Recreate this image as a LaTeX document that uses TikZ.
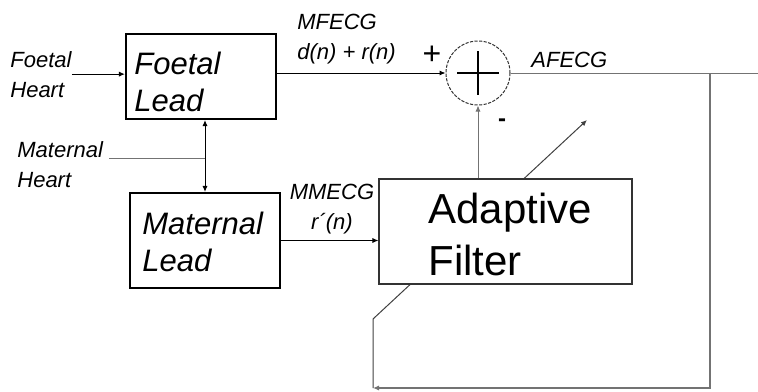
\documentclass[tikz,border=0pt]{standalone}
\usepackage{fontspec}
\setmainfont{Liberation Sans}
\usetikzlibrary{arrows.meta}

\tikzset{
  lbl/.style={font=\fontsize{11}{15}\selectfont\itshape, inner sep=0pt, align=left},
  leadbox/.style={draw=black, line width=1.1pt, minimum width=75pt},
  leadtxt/.style={font=\fontsize{15.5}{18.5}\selectfont\itshape, inner sep=0pt, align=left},
  filterbox/.style={draw=black!80, line width=0.6pt, fill=white},
  filtertxt/.style={font=\fontsize{21}{26}\selectfont, inner sep=0pt, align=left},
  sig/.style={line width=0.5pt, -{Latex[length=3pt,width=2.6pt]}},
  wire/.style={line width=0.5pt, black!55}
}

\begin{document}
\begin{tikzpicture}[x=0.5pt, y=-0.5pt]

  \useasboundingbox (0,0) rectangle (758,391);

  % ------------------------------------------------------------
  % adaptation arrow (goes under the filter box)
  % ------------------------------------------------------------
  \coordinate (fbtop)   at (710,73);
  \coordinate (fbbot)   at (710,388);
  \coordinate (fbleft)  at (373,388);
  \coordinate (adstart) at (373,319);
  \coordinate (adend)   at (587,120);
  \draw[sig, black!75] (fbleft) -- (adstart) -- (adend);

  % ------------------------------------------------------------
  % blocks
  % ------------------------------------------------------------
  \node[leadbox, minimum height=42.5pt] (foetal)   at (201,76.5) {};
  \node[leadbox, minimum height=47.5pt] (maternal) at (205,240.5) {};
  \node[filterbox, minimum width=126.5pt, minimum height=52.5pt] (filter) at (505.5,231.5) {};
  \node[draw=black!80, circle, minimum size=32pt, inner sep=0pt,
        dash pattern=on 1.6pt off 0.7pt, line width=0.5pt] (sum) at (478,73) {};
  \draw[line width=0.6pt] (sum.center) +(-21,0) -- +(21,0);
  \draw[line width=0.6pt] (sum.center) +(0,-22) -- +(0,22);

  % block texts (base = last line)
  \node[leadtxt, anchor=base west]   (foetaltxt)   at (134,111) {Foetal\\Lead};
  \node[leadtxt, anchor=base west]   (maternaltxt) at (142,271) {Maternal\\Lead};
  \node[filtertxt, anchor=base west] (filtertxt)   at (428,275) {Adaptive\\Filter};

  % ------------------------------------------------------------
  % signal labels
  % ------------------------------------------------------------
  \node[lbl, anchor=base west] (fhlabel) at (10,97)  {Foetal\\Heart};
  \node[lbl, anchor=base west] (mhlabel) at (17,187) {Maternal\\Heart};
  \node[lbl, anchor=base west] (mfecg)   at (297,59) {MFECG\\d(n) + r(n)};
  \node[lbl, anchor=base, align=center] (mmecg) at (332,229) {MMECG\\r´(n)};
  \node[lbl, anchor=base west] (afecg)   at (531,67) {AFECG};
  \node[font=\fontsize{16}{16}\selectfont, inner sep=0pt] (plus)  at (432,55)  {+};
  \node[font=\fontsize{12}{12}\selectfont\bfseries, inner sep=0pt] (minus) at (502,123) {-};

  % ------------------------------------------------------------
  % connections
  % ------------------------------------------------------------
  \coordinate (tap)   at (205,158);
  \coordinate (mhend) at (109,158);
  \coordinate (out)   at (758,73);

  \draw[sig] (fhlabel.east) -- (fhlabel.east -| foetal.west);
  \draw[wire] (mhend) -- (tap);
  \draw[line width=0.5pt, {Latex[length=3pt,width=2.6pt]}-{Latex[length=3pt,width=2.6pt]}]
    (tap |- foetal.south) -- (tap |- maternal.north);
  \draw[sig] (foetal.east |- sum) -- (sum.west);
  \draw[sig] (maternal.east) -- (maternal.east -| filter.west);
  \draw[sig, black!55] (sum |- filter.north) -- (sum.south);
  \draw[wire] (sum.east) -- (out);
  \draw[sig, black!55, line width=0.9pt] (fbtop) -- (fbbot) -- (fbleft);

\end{tikzpicture}
\end{document}
